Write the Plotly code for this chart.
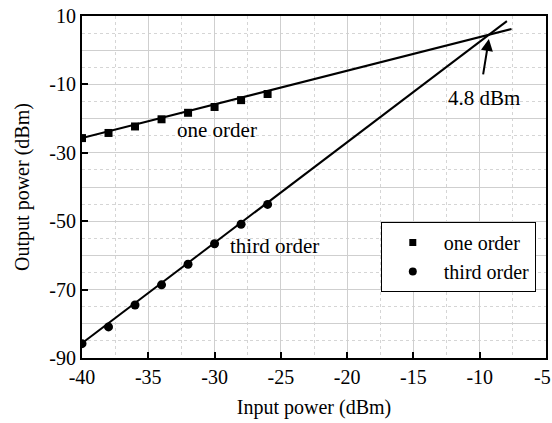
import plotly.graph_objects as go

# ---- data ----
input_power = [-40, -38, -36, -34, -32, -30, -28, -26]
one_order = [-25.7, -24.2, -22.3, -20.2, -18.3, -16.6, -14.6, -12.8]
third_order = [-85.8, -80.9, -74.5, -68.6, -62.6, -56.6, -50.9, -45.1]

fit_x_one = [-40, -7.6]
fit_y_one = [-25.7, 6.2]
fit_x_third = [-40, -7.95]
fit_y_third = [-85.7, 8.5]

x_ticks = [-40, -35, -30, -25, -20, -15, -10, -5]
x_ticktext = ["-40", "-35", "-30", "-25", "-20", "-15", "-10", ""]
x_last_label = "-5"   # drawn separately so it stays inside the page edge
y_ticks = [10, -10, -30, -50, -70, -90]
y_grid = [10, 0, -10, -20, -30, -40, -50, -60, -70, -80, -90]

FONT = "Liberation Serif, Times New Roman, serif"

fig = go.Figure()
fig.add_trace(go.Scatter(x=fit_x_one, y=fit_y_one, mode="lines",
                         line=dict(color="black", width=2), showlegend=False, hoverinfo="skip"))
fig.add_trace(go.Scatter(x=fit_x_third, y=fit_y_third, mode="lines",
                         line=dict(color="black", width=2), showlegend=False, hoverinfo="skip"))
fig.add_trace(go.Scatter(x=input_power, y=one_order, mode="markers", name="one order",
                         marker=dict(symbol="square", size=8, color="black"), showlegend=False))
fig.add_trace(go.Scatter(x=input_power, y=third_order, mode="markers", name="third order",
                         marker=dict(symbol="circle", size=9, color="black"), showlegend=False))
# legend entries (smaller symbols, as in the reference)
fig.add_trace(go.Scatter(x=[None], y=[None], mode="markers", name="one order",
                         marker=dict(symbol="square", size=7, color="black")))
fig.add_trace(go.Scatter(x=[None], y=[None], mode="markers", name="third order",
                         marker=dict(symbol="circle", size=8, color="black")))
# invisible trace for tick overlay axis
fig.add_trace(go.Scatter(x=[-40], y=[-90], yaxis="y2", mode="markers",
                         marker=dict(opacity=0), showlegend=False, hoverinfo="skip"))

fig.update_layout(
    width=552, height=423,
    margin=dict(l=82, r=6, t=16, b=65),
    paper_bgcolor="white", plot_bgcolor="white",
    font=dict(family=FONT, size=20, color="black"),
    xaxis=dict(
        range=[-40, -5], tickvals=x_ticks, ticktext=x_ticktext,
        ticks="inside", ticklen=6, tickwidth=2, tickcolor="black",
        showline=True, linecolor="black", linewidth=2, mirror=True,
        showgrid=True, gridcolor="#cfcfcf", gridwidth=1,
        minor=dict(dtick=2.5, tick0=-40, showgrid=True, gridcolor="#d5d5d5", griddash="dot", gridwidth=1, ticks=""),
        zeroline=False, automargin=False, ticklabeloverflow="allow",
        title=dict(text="Input power (dBm)", font=dict(size=20), standoff=13),
        tickfont=dict(size=20),
    ),
    yaxis=dict(
        range=[-90, 10], tickvals=y_grid,
        ticktext=[str(v) if v in y_ticks else "" for v in y_grid],
        ticks="",
        showline=True, linecolor="black", linewidth=2, mirror=True,
        showgrid=True, gridcolor="#cfcfcf", gridwidth=1,
        minor=dict(dtick=5, tick0=10, showgrid=True, gridcolor="#d5d5d5", griddash="dot", gridwidth=1, ticks=""),
        zeroline=False, automargin=False, ticklabeloverflow="allow",
        title=dict(text="Output power (dBm)", font=dict(size=20), standoff=14),
        tickfont=dict(size=20),
    ),
    yaxis2=dict(
        range=[-90, 10], overlaying="y", side="left", tickvals=y_ticks,
        ticks="inside", ticklen=6, tickwidth=2, tickcolor="black",
        showticklabels=False, showgrid=False, zeroline=False, showline=False,
        automargin=False,
    ),
    legend=dict(
        x=0.978, y=0.398, xanchor="right", yanchor="top",
        bordercolor="black", borderwidth=1, bgcolor="white",
        font=dict(size=20), itemwidth=52, tracegroupgap=0,
    ),
    annotations=[
        dict(x=-29.8, y=-23.3, text="one order", showarrow=False, font=dict(size=21)),
        dict(x=-29.0, y=-57.3, text="third order", showarrow=False, xanchor="left", font=dict(size=21)),
        dict(x=-12.55, y=-14.0, text="4.8 dBm", showarrow=False, xanchor="left", font=dict(size=21)),
        dict(x=-9.31, y=3.3, ax=-9.76, ay=-7.5, axref="x", ayref="y", text="",
             showarrow=True, arrowhead=2, arrowsize=1.2, arrowwidth=2, arrowcolor="black"),
        dict(x=x_ticks[-1], xref="x", y=0, yref="paper", text=x_last_label,
             showarrow=False, xanchor="center", yanchor="top", xshift=-4, yshift=-6,
             font=dict(size=20)),
    ],
)

fig.write_html("out.html", config={"displayModeBar": False},
               post_script="document.body.style.margin='0';document.body.style.overflow='hidden';")
